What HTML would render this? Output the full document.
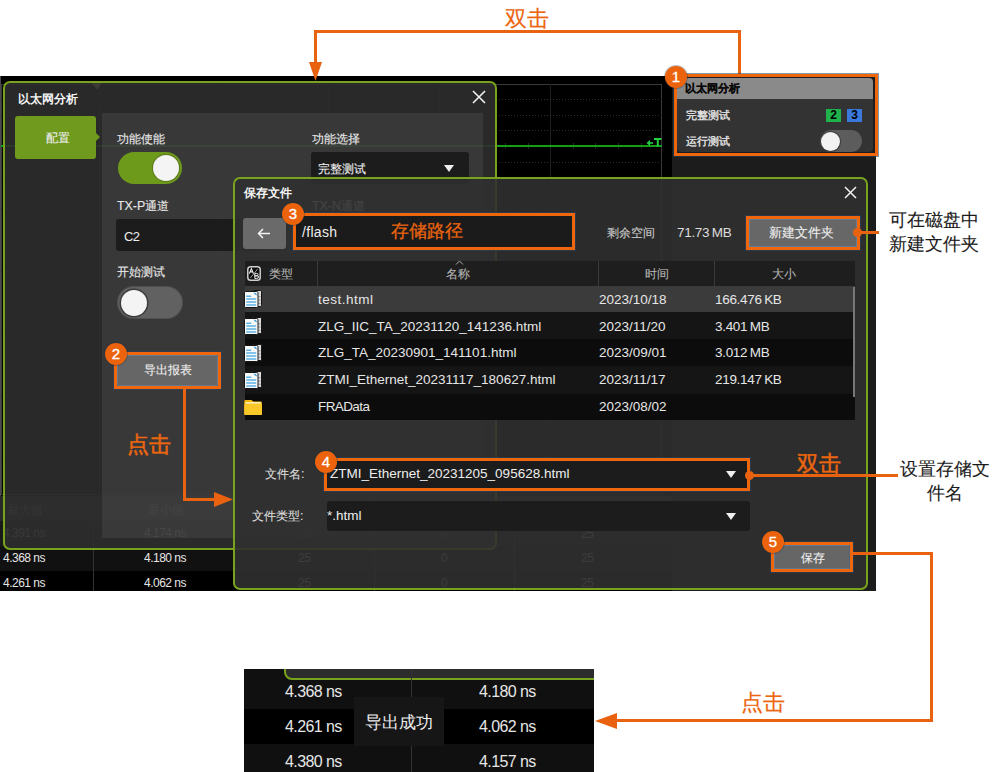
<!DOCTYPE html>
<html><head><meta charset="utf-8">
<style>
*{margin:0;padding:0;box-sizing:border-box}
body{width:1000px;height:772px;background:#fff;position:relative;overflow:hidden;font-family:"Liberation Sans",sans-serif;color:#e6e6e6}
.a{position:absolute}
.t{position:absolute;white-space:nowrap;line-height:1}
.c{font-size:12.4px;-webkit-text-stroke:.12px currentColor}
.l{font-size:13.5px}
.or{background:#e8620f}
.badge{position:absolute;width:22px;height:22px;border-radius:50%;background:#ec630d;color:#fff;font-size:15px;line-height:22px;text-align:center;-webkit-text-stroke:.3px #fff;box-shadow:0 0 0 1px rgba(20,45,70,.3)}
.obox{position:absolute;border:3px solid #f0660d;box-shadow:0 0 0 1px rgba(40,70,100,.55)}
.ob{box-shadow:0 0 0 1px rgba(40,70,100,.55),inset 0 0 0 1px rgba(95,135,175,.6)}
.ann{position:absolute;white-space:nowrap;line-height:1;color:#ec650f;-webkit-text-stroke:.5px #ec650f}
.gl{position:absolute;background:#1c1c1c}
.gh{position:absolute;height:1px;background:repeating-linear-gradient(90deg,#2e2e2e 0 1px,transparent 1px 3px)}
.ico{position:absolute;left:244px}
</style></head><body>

<!-- ================= screenshot 1 ================= -->
<div class="a" style="left:0;top:76px;width:876px;height:515px;overflow:hidden;background:#000">
 <div class="a" style="left:0;top:-76px;width:1000px;height:772px">
  <div class="a" style="left:0;top:76px;width:1px;height:515px;background:#4a4a4a"></div>
  <!-- scope grid -->
  <div class="a" style="left:1px;top:84px;width:661px;height:411px;border:1px solid #3a3a3a"></div>
  <div class="gl" style="left:550px;top:84px;width:1px;height:411px"></div>
  <div class="gl" style="left:439px;top:84px;width:1px;height:411px"></div>
  <div class="gl" style="left:328px;top:84px;width:1px;height:411px"></div>
  <div class="gl" style="left:217px;top:84px;width:1px;height:411px"></div>
  <div class="gl" style="left:99px;top:84px;width:1px;height:411px"></div>
  <div class="gh" style="left:1px;top:99px;width:661px"></div>
  <div class="gh" style="left:1px;top:115px;width:661px"></div>
  <div class="gh" style="left:1px;top:130px;width:661px"></div>
  <div class="gh" style="left:1px;top:162px;width:661px"></div>
  <div class="gh" style="left:1px;top:177px;width:661px"></div>
  <div class="gh" style="left:1px;top:208px;width:661px"></div>
  <div class="gh" style="left:1px;top:271px;width:661px"></div>
  <div class="gh" style="left:1px;top:333px;width:661px"></div>
  <div class="gh" style="left:1px;top:396px;width:661px"></div>
  <div class="gh" style="left:1px;top:458px;width:661px"></div>
  <div class="a" style="left:505px;top:143px;width:140px;height:6px;background:repeating-linear-gradient(90deg,#262626 0 1px,transparent 1px 22.6px)"></div>
  <div class="a" style="left:1px;top:145px;width:661px;height:2px;background:#12a018"></div>
  <svg class="a" style="left:645px;top:137px" width="18" height="10" viewBox="0 0 18 10"><path d="M4 6H8" stroke="#22d040" stroke-width="1.6"/><path d="M1.5 6L5 3V9Z" fill="#22d040"/><path d="M9 2H16.5M12.8 2V9.6" stroke="#22d040" stroke-width="2"/></svg>
  <!-- right panel -->
  <div class="a" style="left:672px;top:76px;width:204px;height:515px;background:#1c1c1c"></div>
  <!-- bg measurement table -->
  <div class="a" style="left:0;top:496px;width:672px;height:25px;background:#2a2a2a"></div>
  <div class="a" style="left:0;top:521px;width:672px;height:25px;background:#1a1a1a"></div>
  <div class="a" style="left:0;top:546px;width:672px;height:25px;background:#111"></div>
  <div class="a" style="left:0;top:571px;width:672px;height:25px;background:#000"></div>
  <div class="a" style="left:93px;top:496px;width:1px;height:100px;background:#333"></div>
  <div class="a" style="left:374px;top:496px;width:1px;height:100px;background:#333"></div>
  <div class="a" style="left:514px;top:496px;width:1px;height:100px;background:#333"></div>
  <div class="t c" style="left:7px;top:504px;color:#777">最大值</div>
  <div class="t c" style="left:148px;top:504px;color:#777">最小值</div>
  <div class="t" style="left:3px;top:527px;font-size:12px;letter-spacing:-.5px;color:#999">4.391 ns</div>
  <div class="t" style="left:144px;top:527px;font-size:12px;letter-spacing:-.5px;color:#999">4.174 ns</div>
  <div class="t" style="left:3px;top:552px;font-size:12px;letter-spacing:-.5px;color:#e6e6e6">4.368 ns</div>
  <div class="t" style="left:144px;top:552px;font-size:12px;letter-spacing:-.5px;color:#e6e6e6">4.180 ns</div>
  <div class="t" style="left:3px;top:577px;font-size:12px;letter-spacing:-.5px;color:#e6e6e6">4.261 ns</div>
  <div class="t" style="left:144px;top:577px;font-size:12px;letter-spacing:-.5px;color:#e6e6e6">4.062 ns</div>
  <div class="t" style="left:298px;top:528px;font-size:12px;letter-spacing:-.5px;color:#aaa">25</div>
  <div class="t" style="left:298px;top:552px;font-size:12px;letter-spacing:-.5px;color:#aaa">25</div>
  <div class="t" style="left:298px;top:577px;font-size:12px;letter-spacing:-.5px;color:#aaa">25</div>
  <div class="t" style="left:441px;top:528px;font-size:12px;letter-spacing:-.5px;color:#aaa">0</div>
  <div class="t" style="left:441px;top:552px;font-size:12px;letter-spacing:-.5px;color:#aaa">0</div>
  <div class="t" style="left:441px;top:577px;font-size:12px;letter-spacing:-.5px;color:#aaa">0</div>
  <div class="t" style="left:581px;top:528px;font-size:12px;letter-spacing:-.5px;color:#aaa">25</div>
  <div class="t" style="left:581px;top:552px;font-size:12px;letter-spacing:-.5px;color:#aaa">25</div>
  <div class="t" style="left:581px;top:577px;font-size:12px;letter-spacing:-.5px;color:#aaa">25</div>

  <!-- panel 1 (以太网分析 mini) -->
  <div class="a" style="left:677px;top:78px;width:196px;height:74px;background:#333;border-radius:4px;overflow:hidden">
   <div class="a" style="left:0;top:0;width:196px;height:21px;background:#8a8a8a"></div>
  </div>
  <div class="t" style="left:684.5px;top:82.5px;font-size:11.2px;font-weight:bold;color:#0a0a0a;-webkit-text-stroke:.2px #0a0a0a">以太网分析</div>
  <div class="t" style="left:686px;top:110px;font-size:11.2px;color:#e6e6e6;-webkit-text-stroke:.35px #e6e6e6">完整测试</div>
  <div class="t" style="left:686px;top:136px;font-size:11.2px;color:#e6e6e6;-webkit-text-stroke:.35px #e6e6e6">运行测试</div>
  <div class="a" style="left:826px;top:109px;width:15px;height:13px;background:#1fb24a;color:#000;font-size:12px;font-weight:bold;line-height:13px;text-align:center">2</div>
  <div class="a" style="left:847px;top:109px;width:15px;height:13px;background:#3a78dc;color:#000;font-size:12px;font-weight:bold;line-height:13px;text-align:center">3</div>
  <div class="a" style="left:820px;top:130px;width:42px;height:22px;border-radius:11px;background:#5c5c5c"></div>
  <div class="a" style="left:821px;top:131.5px;width:19px;height:19px;border-radius:50%;background:#f2f2f2;box-shadow:0 0 0 1px #3a3a3a"></div>

  <!-- ============ dialog 1 以太网分析 ============ -->
  <div class="a" style="left:3px;top:81px;width:494px;height:469px;border:2px solid #79a31c;border-radius:7px;background:rgba(46,46,46,.9)"></div>
  <div class="a" style="left:92px;top:83px;width:0;height:0;border-left:5px solid transparent;border-right:5px solid transparent;border-top:7px solid #3d3a36"></div>
  <div class="t" style="left:17.5px;top:92.5px;font-size:12px;font-weight:bold;color:#f4f4f4">以太网分析</div>
  <svg class="a" style="left:472px;top:90px" width="14" height="14" viewBox="0 0 14 14"><path d="M1 1L13 13M13 1L1 13" stroke="#f0f0f0" stroke-width="1.6"/></svg>
  <!-- tab -->
  <div class="a" style="left:15px;top:116px;width:81px;height:43px;background:#6f9a1d;border-radius:3px"></div>
  <div class="a" style="left:95px;top:132px;width:0;height:0;border-top:5px solid transparent;border-bottom:5px solid transparent;border-left:5px solid #6f9a1d"></div>
  <div class="t c" style="left:46px;top:132px;color:#eee">配置</div>
  <!-- content panel -->
  <div class="a" style="left:102px;top:113px;width:381px;height:425px;background:rgba(255,255,255,.07)"></div>
  <div class="t c" style="left:117px;top:133px;color:#e8e8e8">功能使能</div>
  <div class="a" style="left:118px;top:152px;width:64px;height:32px;border-radius:16px;background:#6e9a1b"></div>
  <div class="a" style="left:153px;top:155px;width:26px;height:26px;border-radius:50%;background:#f4f4f4;box-shadow:0 0 0 1px #5a7a1a"></div>
  <div class="t c" style="left:117px;top:200px;color:#e8e8e8">TX-P通道</div>
  <div class="a" style="left:116px;top:219px;width:150px;height:32px;border-radius:3px;background:#1c1c1c"></div>
  <div class="t" style="left:124px;top:229.5px;font-size:13px;color:#eee;letter-spacing:-.6px">C2</div>
  <div class="t c" style="left:117px;top:266px;color:#e8e8e8">开始测试</div>
  <div class="a" style="left:118px;top:287px;width:64px;height:31px;border-radius:16px;background:#616161;box-shadow:0 0 0 1px #505050"></div>
  <div class="a" style="left:121px;top:289.5px;width:26px;height:26px;border-radius:50%;background:#f4f4f4;box-shadow:0 0 0 1.5px #3c3c3c"></div>
  <div class="t c" style="left:312px;top:133px;color:#e8e8e8">功能选择</div>
  <div class="a" style="left:311px;top:152px;width:158px;height:32px;border-radius:3px;background:#1c1c1c"></div>
  <div class="t c" style="left:318px;top:163px;color:#eee">完整测试</div>
  <div class="a" style="left:444px;top:165px;width:0;height:0;border-left:5px solid transparent;border-right:5px solid transparent;border-top:7px solid #eee"></div>
  <div class="t c" style="left:312px;top:200px;color:#e8e8e8">TX-N通道</div>
  <div class="a" style="left:117px;top:355px;width:101px;height:31px;background:#666;border-radius:2px"></div>
  <div class="t c" style="left:144px;top:364px;color:#eee">导出报表</div>

  <!-- ============ dialog 2 保存文件 ============ -->
  <div class="a" style="left:233px;top:177px;width:635px;height:413px;border:2px solid #79a31c;border-radius:7px;background:rgba(48,48,48,.9)"></div>
  <div class="t" style="left:243.5px;top:187px;font-size:12px;font-weight:bold;color:#f4f4f4">保存文件</div>
  <svg class="a" style="left:844px;top:186px" width="13" height="13" viewBox="0 0 13 13"><path d="M1 1L12 12M12 1L1 12" stroke="#f0f0f0" stroke-width="1.5"/></svg>
  <div class="a" style="left:243px;top:218px;width:43px;height:31px;background:#6a6a6a;border-radius:3px"></div>
  <svg class="a" style="left:257px;top:228px" width="14" height="11" viewBox="0 0 14 11"><path d="M1.5 5.5H13M6 1L1.5 5.5L6 10" stroke="#f4f4f4" stroke-width="1.5" fill="none"/></svg>
  <div class="a" style="left:296px;top:216px;width:276px;height:31px;background:#1b1b1b"></div>
  <div class="t" style="left:302px;top:224.5px;font-size:14px;letter-spacing:.3px;color:#eee">/flash</div>
  <div class="t c" style="left:607px;top:227px;color:#ccc">剩余空间</div>
  <div class="t l" style="left:677px;top:226px;color:#ddd;word-spacing:-1px;letter-spacing:-.3px">71.73 MB</div>
  <div class="a" style="left:748px;top:218px;width:109px;height:29px;background:#676767"></div>
  <div class="t c" style="left:769px;top:227px;font-size:12.8px;color:#eee">新建文件夹</div>
  <!-- table -->
  <div class="a" style="left:245px;top:261px;width:610px;height:25px;background:#1e1e1e"></div>
  <div class="a" style="left:317px;top:261px;width:1px;height:25px;background:#3a3a3a"></div>
  <div class="a" style="left:598px;top:261px;width:1px;height:25px;background:#3a3a3a"></div>
  <div class="a" style="left:714px;top:261px;width:1px;height:25px;background:#3a3a3a"></div>
  <svg class="a" style="left:247px;top:266px" width="14" height="15" viewBox="0 0 14 15"><rect x="0.8" y="0.8" width="12.4" height="13.4" rx="2.8" fill="#0c0c0c" stroke="#cfcfcf" stroke-width="1.5"/><path d="M3.2 12.2L10.8 2.8" stroke="#9a9a9a" stroke-width="1"/><path d="M2.3 7.6L4.4 2.6L6.5 7.6M3.1 5.9H5.7" stroke="#f0f0f0" stroke-width="1.1" fill="none"/><path d="M7.8 7.4V12.4H9.8Q11.6 12.4 11.6 11Q11.6 9.8 10 9.8H7.8M7.8 9.8H9.6Q11.2 9.8 11.2 8.6Q11.2 7.4 9.6 7.4H7.8" stroke="#f0f0f0" stroke-width="1" fill="none"/></svg>
  <div class="t c" style="left:269px;top:268px;color:#b4b4b4">类型</div>
  <svg class="a" style="left:455px;top:260px" width="9" height="5" viewBox="0 0 9 5"><path d="M1 4.5L4.5 1L8 4.5" stroke="#aaa" stroke-width="1" fill="none"/></svg>
  <div class="t c" style="left:446px;top:268px;color:#b4b4b4">名称</div>
  <div class="t c" style="left:645px;top:268px;color:#b4b4b4">时间</div>
  <div class="t c" style="left:772px;top:268px;color:#b4b4b4">大小</div>
  <div class="a" style="left:245px;top:286px;width:610px;height:26px;background:#3b3b3b"></div>
  <div class="a" style="left:245px;top:312px;width:610px;height:27px;background:#151515"></div>
  <div class="a" style="left:245px;top:339px;width:610px;height:27px;background:#0c0c0c"></div>
  <div class="a" style="left:245px;top:366px;width:610px;height:28px;background:#151515"></div>
  <div class="a" style="left:245px;top:394px;width:610px;height:26px;background:#0c0c0c"></div>
  <div class="a" style="left:853px;top:287px;width:2px;height:110px;background:#777"></div>
  <!-- icons -->
  <svg class="ico" style="top:290px" width="18" height="18" viewBox="0 0 18 18"><rect x="8.5" y="0.5" width="9" height="16" rx="1.2" fill="#dedede" stroke="#141414" stroke-width="1"/><path d="M14.3 6.8h2.2M14.3 10h2.2M14.3 13.2h2.2" stroke="#8a8a8a" stroke-width="1"/><rect x="0.5" y="1.5" width="13.5" height="16" rx="1.2" fill="#f9f9f9" stroke="#141414" stroke-width="1"/><path d="M2.2 6.3h5M2.2 9h10M2.2 12h10M2.2 15h10" stroke="#5cb2e6" stroke-width="1.6"/><path d="M9.6 2.4Q12.8 2.6 13.2 5.6Q11 5.2 9.6 2.4Z" fill="#2f94d6"/></svg>
  <svg class="ico" style="top:317px" width="18" height="18" viewBox="0 0 18 18"><rect x="8.5" y="0.5" width="9" height="16" rx="1.2" fill="#dedede" stroke="#141414" stroke-width="1"/><path d="M14.3 6.8h2.2M14.3 10h2.2M14.3 13.2h2.2" stroke="#8a8a8a" stroke-width="1"/><rect x="0.5" y="1.5" width="13.5" height="16" rx="1.2" fill="#f9f9f9" stroke="#141414" stroke-width="1"/><path d="M2.2 6.3h5M2.2 9h10M2.2 12h10M2.2 15h10" stroke="#5cb2e6" stroke-width="1.6"/><path d="M9.6 2.4Q12.8 2.6 13.2 5.6Q11 5.2 9.6 2.4Z" fill="#2f94d6"/></svg>
  <svg class="ico" style="top:344px" width="18" height="18" viewBox="0 0 18 18"><rect x="8.5" y="0.5" width="9" height="16" rx="1.2" fill="#dedede" stroke="#141414" stroke-width="1"/><path d="M14.3 6.8h2.2M14.3 10h2.2M14.3 13.2h2.2" stroke="#8a8a8a" stroke-width="1"/><rect x="0.5" y="1.5" width="13.5" height="16" rx="1.2" fill="#f9f9f9" stroke="#141414" stroke-width="1"/><path d="M2.2 6.3h5M2.2 9h10M2.2 12h10M2.2 15h10" stroke="#5cb2e6" stroke-width="1.6"/><path d="M9.6 2.4Q12.8 2.6 13.2 5.6Q11 5.2 9.6 2.4Z" fill="#2f94d6"/></svg>
  <svg class="ico" style="top:371px" width="18" height="18" viewBox="0 0 18 18"><rect x="8.5" y="0.5" width="9" height="16" rx="1.2" fill="#dedede" stroke="#141414" stroke-width="1"/><path d="M14.3 6.8h2.2M14.3 10h2.2M14.3 13.2h2.2" stroke="#8a8a8a" stroke-width="1"/><rect x="0.5" y="1.5" width="13.5" height="16" rx="1.2" fill="#f9f9f9" stroke="#141414" stroke-width="1"/><path d="M2.2 6.3h5M2.2 9h10M2.2 12h10M2.2 15h10" stroke="#5cb2e6" stroke-width="1.6"/><path d="M9.6 2.4Q12.8 2.6 13.2 5.6Q11 5.2 9.6 2.4Z" fill="#2f94d6"/></svg>
  <svg class="ico" style="top:399px" width="19" height="17" viewBox="0 0 19 17"><path d="M0.3 2.2Q0.3 0.9 1.6 0.9H7.6L9.2 2.4H16.6Q17.9 2.4 17.9 3.7V14.9Q17.9 16 16.8 16H1.4Q0.3 16 0.3 14.9Z" fill="#f2b90c"/><rect x="1.3" y="3.2" width="15.6" height="1.4" fill="#fff6d0"/><rect x="0.3" y="5" width="17.6" height="11" rx="1" fill="#fbc82a"/></svg>
  <div class="t l" style="left:318px;top:292.5px;color:#e6e6e6;letter-spacing:.5px">test.html</div>
  <div class="t l" style="left:318px;top:319.5px;color:#e6e6e6">ZLG_IIC_TA_20231120_141236.html</div>
  <div class="t l" style="left:318px;top:346px;color:#e6e6e6">ZLG_TA_20230901_141101.html</div>
  <div class="t l" style="left:318px;top:373px;color:#e6e6e6">ZTMI_Ethernet_20231117_180627.html</div>
  <div class="t l" style="left:318px;top:400px;color:#e6e6e6;letter-spacing:-.6px">FRAData</div>
  <div class="t l" style="left:599px;top:292.5px;color:#e6e6e6">2023/10/18</div>
  <div class="t l" style="left:599px;top:319.5px;color:#e6e6e6">2023/11/20</div>
  <div class="t l" style="left:599px;top:346px;color:#e6e6e6">2023/09/01</div>
  <div class="t l" style="left:599px;top:373px;color:#e6e6e6">2023/11/17</div>
  <div class="t l" style="left:599px;top:400px;color:#e6e6e6">2023/08/02</div>
  <div class="t l" style="left:715px;top:292.5px;color:#e6e6e6;word-spacing:-1px;letter-spacing:-.3px">166.476 KB</div>
  <div class="t l" style="left:715px;top:319.5px;color:#e6e6e6;word-spacing:-1px;letter-spacing:-.3px">3.401 MB</div>
  <div class="t l" style="left:715px;top:346px;color:#e6e6e6;word-spacing:-1px;letter-spacing:-.3px">3.012 MB</div>
  <div class="t l" style="left:715px;top:373px;color:#e6e6e6;word-spacing:-1px;letter-spacing:-.3px">219.147 KB</div>
  <!-- form -->
  <div class="t c" style="left:265px;top:468px;color:#ddd">文件名:</div>
  <div class="a" style="left:327px;top:461px;width:420px;height:28px;background:#1c1c1c"></div>
  <div class="t l" style="left:330px;top:466.5px;color:#eee">ZTMI_Ethernet_20231205_095628.html</div>
  <div class="a" style="left:726px;top:471px;width:0;height:0;border-left:5px solid transparent;border-right:5px solid transparent;border-top:7px solid #eee"></div>
  <div class="t c" style="left:252px;top:510px;color:#ddd">文件类型:</div>
  <div class="a" style="left:327px;top:501px;width:423px;height:30px;background:#1c1c1c;border-radius:3px"></div>
  <div class="t l" style="left:327px;top:508.5px;color:#eee">*.html</div>
  <div class="a" style="left:726px;top:513px;width:0;height:0;border-left:5px solid transparent;border-right:5px solid transparent;border-top:7px solid #eee"></div>
  <div class="a" style="left:774px;top:545px;width:75px;height:24px;background:#666"></div>
  <div class="t c" style="left:801px;top:552px;color:#eee">保存</div>
 </div>
</div>

<!-- ================= annotations ================= -->
<div class="a or" style="left:314px;top:30px;width:427px;height:3px"></div>
<div class="a or" style="left:314px;top:30px;width:3px;height:35px"></div>
<div class="a or" style="left:738px;top:30px;width:3px;height:45px"></div>
<svg class="a" style="left:309px;top:62px" width="13" height="20"><path d="M0 0H13L6.5 19Z" fill="#e8620f"/></svg>
<div class="ann" style="left:505px;top:8px;font-size:22px;-webkit-text-stroke:.2px #ec650f">双击</div>

<div class="obox" style="left:674px;top:74px;width:204px;height:82px"></div>
<div class="badge" style="left:665px;top:66px">1</div>

<div class="obox ob" style="left:114px;top:352px;width:107px;height:37px"></div>
<div class="badge" style="left:105px;top:343px">2</div>
<div class="a or" style="left:183px;top:389px;width:3px;height:112px"></div>
<div class="a or" style="left:183px;top:498px;width:35px;height:3px"></div>
<svg class="a" style="left:214px;top:492px" width="19" height="15"><path d="M0 0L19 7.5L0 15Z" fill="#e8620f"/></svg>
<div class="ann" style="left:127px;top:434px;font-size:22px">点击</div>

<div class="obox" style="left:293px;top:213px;width:282px;height:37px"></div>
<div class="badge" style="left:282px;top:203px">3</div>
<div class="ann" style="left:391px;top:222px;font-size:18px;-webkit-text-stroke:.25px #ec650f">存储路径</div>

<div class="obox ob" style="left:745.5px;top:215.5px;width:114.5px;height:34.5px"></div>
<div class="a or" style="left:858px;top:231px;width:21px;height:3px"></div>
<div class="a or" style="left:853px;top:228px;width:9px;height:9px;border-radius:50%"></div>

<div class="obox" style="left:324px;top:458px;width:426px;height:33px"></div>
<div class="badge" style="left:315px;top:451px">4</div>
<div class="a or" style="left:750px;top:474px;width:148px;height:3px"></div>
<div class="a or" style="left:745px;top:471px;width:9px;height:9px;border-radius:50%"></div>
<div class="ann" style="left:796.5px;top:452.5px;font-size:22px">双击</div>

<div class="obox ob" style="left:771px;top:542px;width:82px;height:30px"></div>
<div class="badge" style="left:762px;top:531px">5</div>
<div class="a or" style="left:853px;top:552px;width:80px;height:3px"></div>
<div class="a or" style="left:930px;top:552px;width:3px;height:170px"></div>
<div class="a or" style="left:615px;top:719px;width:318px;height:3px"></div>
<svg class="a" style="left:595px;top:713px" width="22" height="16"><path d="M22 0L0 8L22 16Z" fill="#e8620f"/></svg>
<div class="ann" style="left:741px;top:692px;font-size:22px;-webkit-text-stroke:.2px #ec650f">点击</div>

<div class="t" style="left:889px;top:208px;font-size:17.5px;line-height:24px;color:#1a1a1a;-webkit-text-stroke:.1px #1a1a1a">可在磁盘中<br>新建文件夹</div>
<div class="t" style="left:900px;top:457px;font-size:17.5px;line-height:24px;color:#1a1a1a;-webkit-text-stroke:.1px #1a1a1a;text-align:center">设置存储文<br>件名</div>

<!-- ================= screenshot 2 ================= -->
<div class="a" style="left:244px;top:669px;width:350px;height:103px;overflow:hidden;background:#101010">
  <div class="a" style="left:40px;top:-20px;width:340px;height:31px;border:2px solid #79a31c;border-radius:8px;background:#2c2c2c"></div>
  <div class="a" style="left:0;top:40px;width:350px;height:35px;background:#000"></div>
  <div class="a" style="left:167px;top:0;width:1px;height:103px;background:#333"></div>
  <div class="t" style="left:41px;top:15px;font-size:16px;letter-spacing:-.6px;color:#e6e6e6">4.368 ns</div>
  <div class="t" style="left:41px;top:50px;font-size:16px;letter-spacing:-.6px;color:#e6e6e6">4.261 ns</div>
  <div class="t" style="left:41px;top:85px;font-size:16px;letter-spacing:-.6px;color:#e6e6e6">4.380 ns</div>
  <div class="t" style="left:235px;top:15px;font-size:16px;letter-spacing:-.6px;color:#e6e6e6">4.180 ns</div>
  <div class="t" style="left:235px;top:50px;font-size:16px;letter-spacing:-.6px;color:#e6e6e6">4.062 ns</div>
  <div class="t" style="left:235px;top:85px;font-size:16px;letter-spacing:-.6px;color:#e6e6e6">4.157 ns</div>
  <div class="a" style="left:110px;top:28px;width:90px;height:49px;background:#161616"></div>
  <div class="t" style="left:121px;top:45px;font-size:17px;color:#eee">导出成功</div>
</div>

</body></html>
